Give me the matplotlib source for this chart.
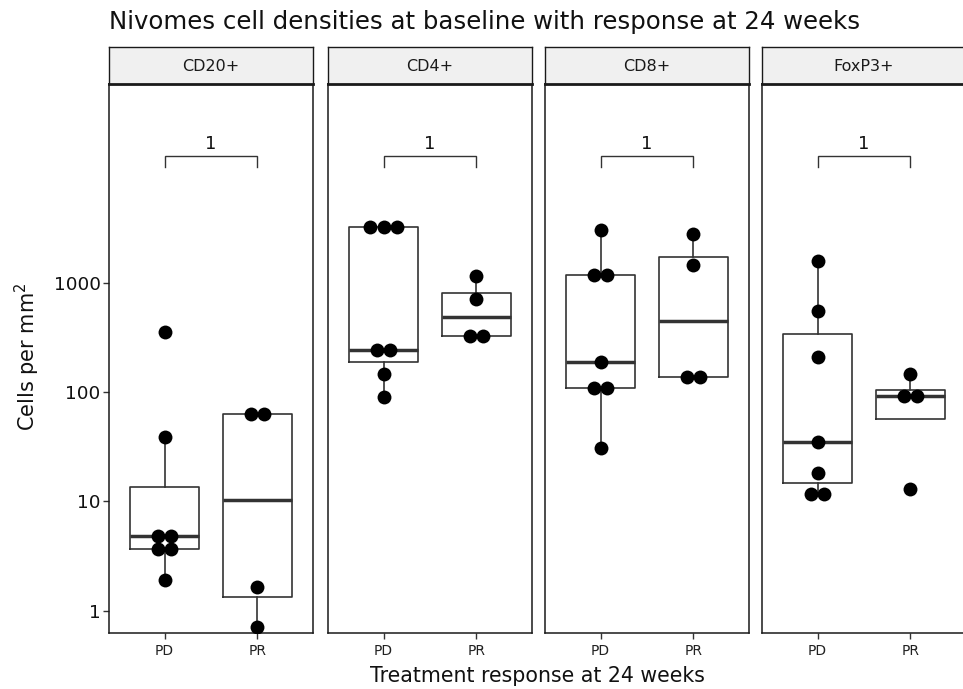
import numpy as np
import matplotlib
matplotlib.use("Agg")
import matplotlib.pyplot as plt
from matplotlib import cbook
from matplotlib.ticker import FixedLocator, FixedFormatter, NullLocator

plt.rcParams['font.family'] = ['DejaVu Sans']

# ---------------- data ----------------
markers = ["CD20+", "CD4+", "CD8+", "FoxP3+"]
responses = ["PD", "PR"]
cd20_pd = [354, 39, 4.8, 4.8, 3.7, 3.7, 1.9]
cd20_pr = [63, 63, 1.66, 0.71]
cd4_pd = [3270, 3270, 3270, 245, 245, 147, 91]
cd4_pr = [1160, 720, 330, 330]
cd8_pd = [3080, 1190, 1190, 190, 110, 110, 31]
cd8_pr = [2800, 1475, 138, 138]
foxp3_pd = [1585, 552, 212, 35, 18.4, 11.6, 11.6]
foxp3_pr = [147, 93, 93, 12.9]
p_labels = ["1", "1", "1", "1"]
y_ticks = [1, 10, 100, 1000]
y_tick_labels = ["1", "10", "100", "1000"]

groups = {
    "CD20+": (cd20_pd, cd20_pr),
    "CD4+": (cd4_pd, cd4_pr),
    "CD8+": (cd8_pd, cd8_pr),
    "FoxP3+": (foxp3_pd, foxp3_pr),
}

# ---------------- layout ----------------
W, H = 963, 689
fig = plt.figure(figsize=(W / 100, H / 100), dpi=100)
fig.patch.set_facecolor("white")

panel_left_px = [109, 328, 545, 762]
panel_w_px = 204
panel_top_px, panel_bot_px = 84, 632.5
strip_top_px = 47.3

ylo, yhi = 10 ** -0.20, 10 ** 4.823
xlo, xhi = 0.4, 2.6
dot_d_px = 13.5
dot_d = dot_d_px / panel_w_px * (xhi - xlo)

line_col = "#333333"
border_col = "#1a1a1a"

for i, m in enumerate(markers):
    l = panel_left_px[i] / W
    b = 1 - panel_bot_px / H
    w = panel_w_px / W
    h = (panel_bot_px - panel_top_px) / H
    ax = fig.add_axes([l, b, w, h])
    ax.set_yscale("log")
    ax.set_xlim(xlo, xhi)
    ax.set_ylim(ylo, yhi)

    pd_vals, pr_vals = groups[m]
    stats = []
    for vals in (pd_vals, pr_vals):
        lv = np.log10(np.array(vals, dtype=float))
        s = cbook.boxplot_stats(lv, whis=1.5)[0]
        for k in ("med", "q1", "q3", "whislo", "whishi", "mean"):
            s[k] = 10 ** s[k]
        s["fliers"] = np.array([])
        s.pop("cilo", None); s.pop("cihi", None)
        stats.append(s)
    ax.bxp(stats, positions=[1, 2], widths=0.75, showfliers=False,
           showcaps=False, patch_artist=False,
           boxprops=dict(color=line_col, linewidth=1.2),
           whiskerprops=dict(color=line_col, linewidth=1.2),
           medianprops=dict(color=line_col, linewidth=2.5, solid_capstyle="butt"),
           manage_ticks=False, zorder=2)

    # dotplot-style centred stacks
    for pos, vals in zip([1, 2], (pd_vals, pr_vals)):
        uniq = []
        for v in vals:
            if v not in uniq:
                uniq.append(v)
        xs, ys = [], []
        for v in uniq:
            n = vals.count(v)
            for j in range(n):
                xs.append(pos + (j - (n - 1) / 2) * dot_d)
                ys.append(v)
        ax.scatter(xs, ys, s=10 ** 2, c="black", linewidths=0, zorder=3)

    # significance bracket
    yb = 10 ** 4.167
    yt = 10 ** 4.06
    ax.plot([1, 1, 2, 2], [yt, yb, yb, yt], color=line_col, lw=1.0,
            solid_joinstyle="miter", zorder=2)
    ax.text(1.5, 10 ** 4.273, p_labels[i], ha="center", va="center",
            fontsize=13, color="#111111")

    ax.set_xticks([1, 2])
    ax.set_xticklabels(responses, fontsize=10, color="#222222")
    ax.yaxis.set_major_locator(FixedLocator(y_ticks))
    ax.yaxis.set_minor_locator(NullLocator())
    if i == 0:
        ax.yaxis.set_major_formatter(FixedFormatter(y_tick_labels))
        ax.tick_params(axis="y", labelsize=13.3, labelcolor="#111111",
                       length=4, width=1, color=line_col, pad=2)
    else:
        ax.tick_params(axis="y", left=False, labelleft=False)
    ax.tick_params(axis="x", length=4, width=1, color=line_col, pad=4)
    for sp in ax.spines.values():
        sp.set_color(border_col)
        sp.set_linewidth(1.1)

    # strip
    sb = 1 - panel_top_px / H
    sh = (panel_top_px - strip_top_px) / H
    sax = fig.add_axes([l, sb, w, sh])
    sax.set_facecolor("#F0F0F0")
    sax.set_xticks([]); sax.set_yticks([])
    for sp in sax.spines.values():
        sp.set_color(border_col)
        sp.set_linewidth(1.0)
    sax.spines["bottom"].set_linewidth(2.0)
    sax.text(0.5, 0.48, m, ha="center", va="center", fontsize=11.5,
             color="#1a1a1a", transform=sax.transAxes)

fig.text(109 / W, 1 - 29 / H,
         "Nivomes cell densities at baseline with response at 24 weeks",
         ha="left", va="baseline", fontsize=17.6, color="#111111")
fig.text(537.5 / W, 1 - 681.7 / H, "Treatment response at 24 weeks",
         ha="center", va="baseline", fontsize=14.8, color="#111111")
fig.text(27 / W, 1 - 357 / H, "Cells per mm$^2$", rotation=90,
         ha="center", va="center", fontsize=15, color="#111111")

fig.savefig("out.png", dpi=100, facecolor="white")
